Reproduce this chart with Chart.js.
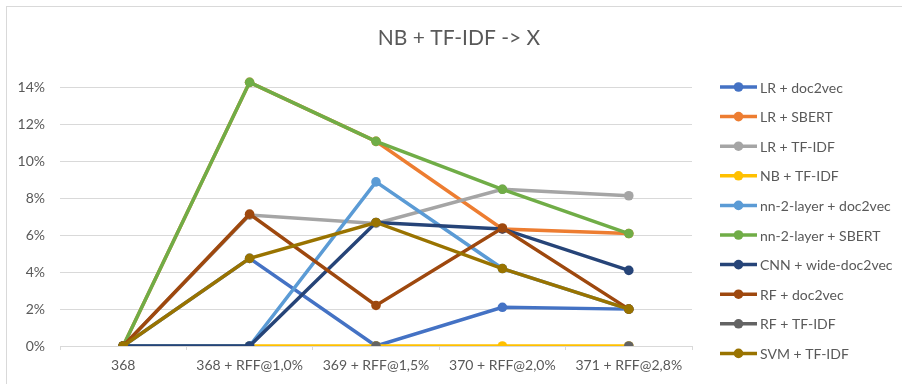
<!DOCTYPE html>
<html>
<head>
<meta charset="utf-8">
<script src="https://cdn.jsdelivr.net/npm/chart.js@4"></script>
<style>
  html, body { margin: 0; padding: 0; background: #fff; overflow: hidden; }
  #wrap { position: relative; width: 902px; height: 384px; }
  #frame { position: absolute; left: 6px; top: 6px; width: 920px; height: 400px; border-top: 1px solid #d9d9d9; border-left: 1px solid #d9d9d9; }
  canvas { position: absolute; left: 0; top: 0; }
</style>
</head>
<body>
<div id="wrap">
  <div id="frame"></div>
  <canvas id="chart" width="902" height="384"></canvas>
</div>
<script>
// chart data
const chartTitle = "NB + TF-IDF -> X";
const categories = ["368", "368 + RFF@1,0%", "369 + RFF@1,5%", "370 + RFF@2,0%", "371 + RFF@2,8%"];
const seriesNames = [
  "LR + doc2vec", "LR + SBERT", "LR + TF-IDF", "NB + TF-IDF", "nn-2-layer + doc2vec",
  "nn-2-layer + SBERT", "CNN + wide-doc2vec", "RF + doc2vec", "RF + TF-IDF", "SVM + TF-IDF"
];
const lrDoc2vec    = [0, 4.75, 0, 2.1, 2.0];
const lrSbert      = [0, 14.3, 11.1, 6.35, 6.1];
const lrTfidf      = [0, 7.1, 6.65, 8.5, 8.15];
const nbTfidf      = [0, 0, 0, 0, 0];
const nnDoc2vec    = [0, 0, 8.9, 4.2, 2.0];
const nnSbert      = [0, 14.3, 11.1, 8.5, 6.1];
const cnnDoc2vec   = [0, 0, 6.7, 6.35, 4.1];
const rfDoc2vec    = [0, 7.15, 2.2, 6.4, 2.0];
const rfTfidf      = [0, null, 0, null, 0];
const svmTfidf     = [0, 4.75, 6.7, 4.2, 2.0];
const yTicks = [0, 2, 4, 6, 8, 10, 12, 14];

const seriesValues = [lrDoc2vec, lrSbert, lrTfidf, nbTfidf, nnDoc2vec, nnSbert, cnnDoc2vec, rfDoc2vec, rfTfidf, svmTfidf];
const colors = ["#4472C4", "#ED7D31", "#A5A5A5", "#FFC000", "#5B9BD5", "#70AD47", "#264478", "#9E480E", "#636363", "#997300"];

const textColor = "#595959";
const fontFamily = "Lato, 'Open Sans', sans-serif";

const datasets = seriesNames.map((name, i) => ({
  label: name,
  data: seriesValues[i],
  borderColor: colors[i],
  backgroundColor: colors[i],
  borderWidth: 3.5,
  pointRadius: 4.8,
  pointHoverRadius: 4.8,
  pointBorderWidth: 0,
  tension: 0,
  spanGaps: false,
  order: seriesNames.length - i, // later series drawn on top, like Excel
}));

// title + legend in the right column
const titleAndLegend = {
  id: "titleAndLegend",
  afterDraw(chart) {
    const ctx = chart.ctx;
    ctx.save();
    ctx.fillStyle = textColor;
    ctx.font = "21px " + fontFamily;
    ctx.textAlign = "center";
    ctx.textBaseline = "middle";
    ctx.fillText(chartTitle, 459, 38);

    ctx.font = "14px " + fontFamily;
    ctx.textAlign = "left";
    seriesNames.forEach((name, i) => {
      const y = 87 + i * 29.6;
      ctx.strokeStyle = colors[i];
      ctx.lineWidth = 3.5;
      ctx.beginPath();
      ctx.moveTo(720, y);
      ctx.lineTo(757, y);
      ctx.stroke();
      ctx.fillStyle = colors[i];
      ctx.beginPath();
      ctx.arc(738.5, y, 4.8, 0, Math.PI * 2);
      ctx.fill();
      ctx.fillStyle = textColor;
      ctx.fillText(name, 760, y + 1);
    });
    ctx.restore();
  }
};

new Chart(document.getElementById("chart").getContext("2d"), {
  type: "line",
  data: { labels: categories, datasets: datasets },
  options: {
    responsive: false,
    animation: false,
    layout: { padding: { top: 51, left: 0, right: 210, bottom: 0 } },
    scales: {
      x: {
        offset: true,
        afterFit: (scale) => { scale.height = 38; },
        grid: { offset: true, drawOnChartArea: false, drawTicks: true, tickLength: 4, color: "#d9d9d9" },
        border: { display: true, color: "#d9d9d9" },
        ticks: { color: textColor, font: { size: 14, family: fontFamily }, padding: 7, maxRotation: 0 },
      },
      y: {
        min: 0,
        max: 16,
        afterFit: (scale) => { scale.width = 60; },
        afterBuildTicks: (scale) => { scale.ticks = yTicks.concat([16]).map((v) => ({ value: v })); },
        grid: {
          drawTicks: false,
          color: (c) => (c.tick && c.tick.value > 14 ? "rgba(0,0,0,0)" : "#d9d9d9"),
        },
        border: { display: false },
        ticks: {
          color: textColor,
          font: { size: 14, family: fontFamily },
          padding: 15,
          callback: (v) => (v > 14 ? "" : v + "%"),
        },
      },
    },
    plugins: {
      legend: { display: false },
      title: { display: false },
      tooltip: { enabled: false },
    },
  },
  plugins: [titleAndLegend],
});
</script>
</body>
</html>
